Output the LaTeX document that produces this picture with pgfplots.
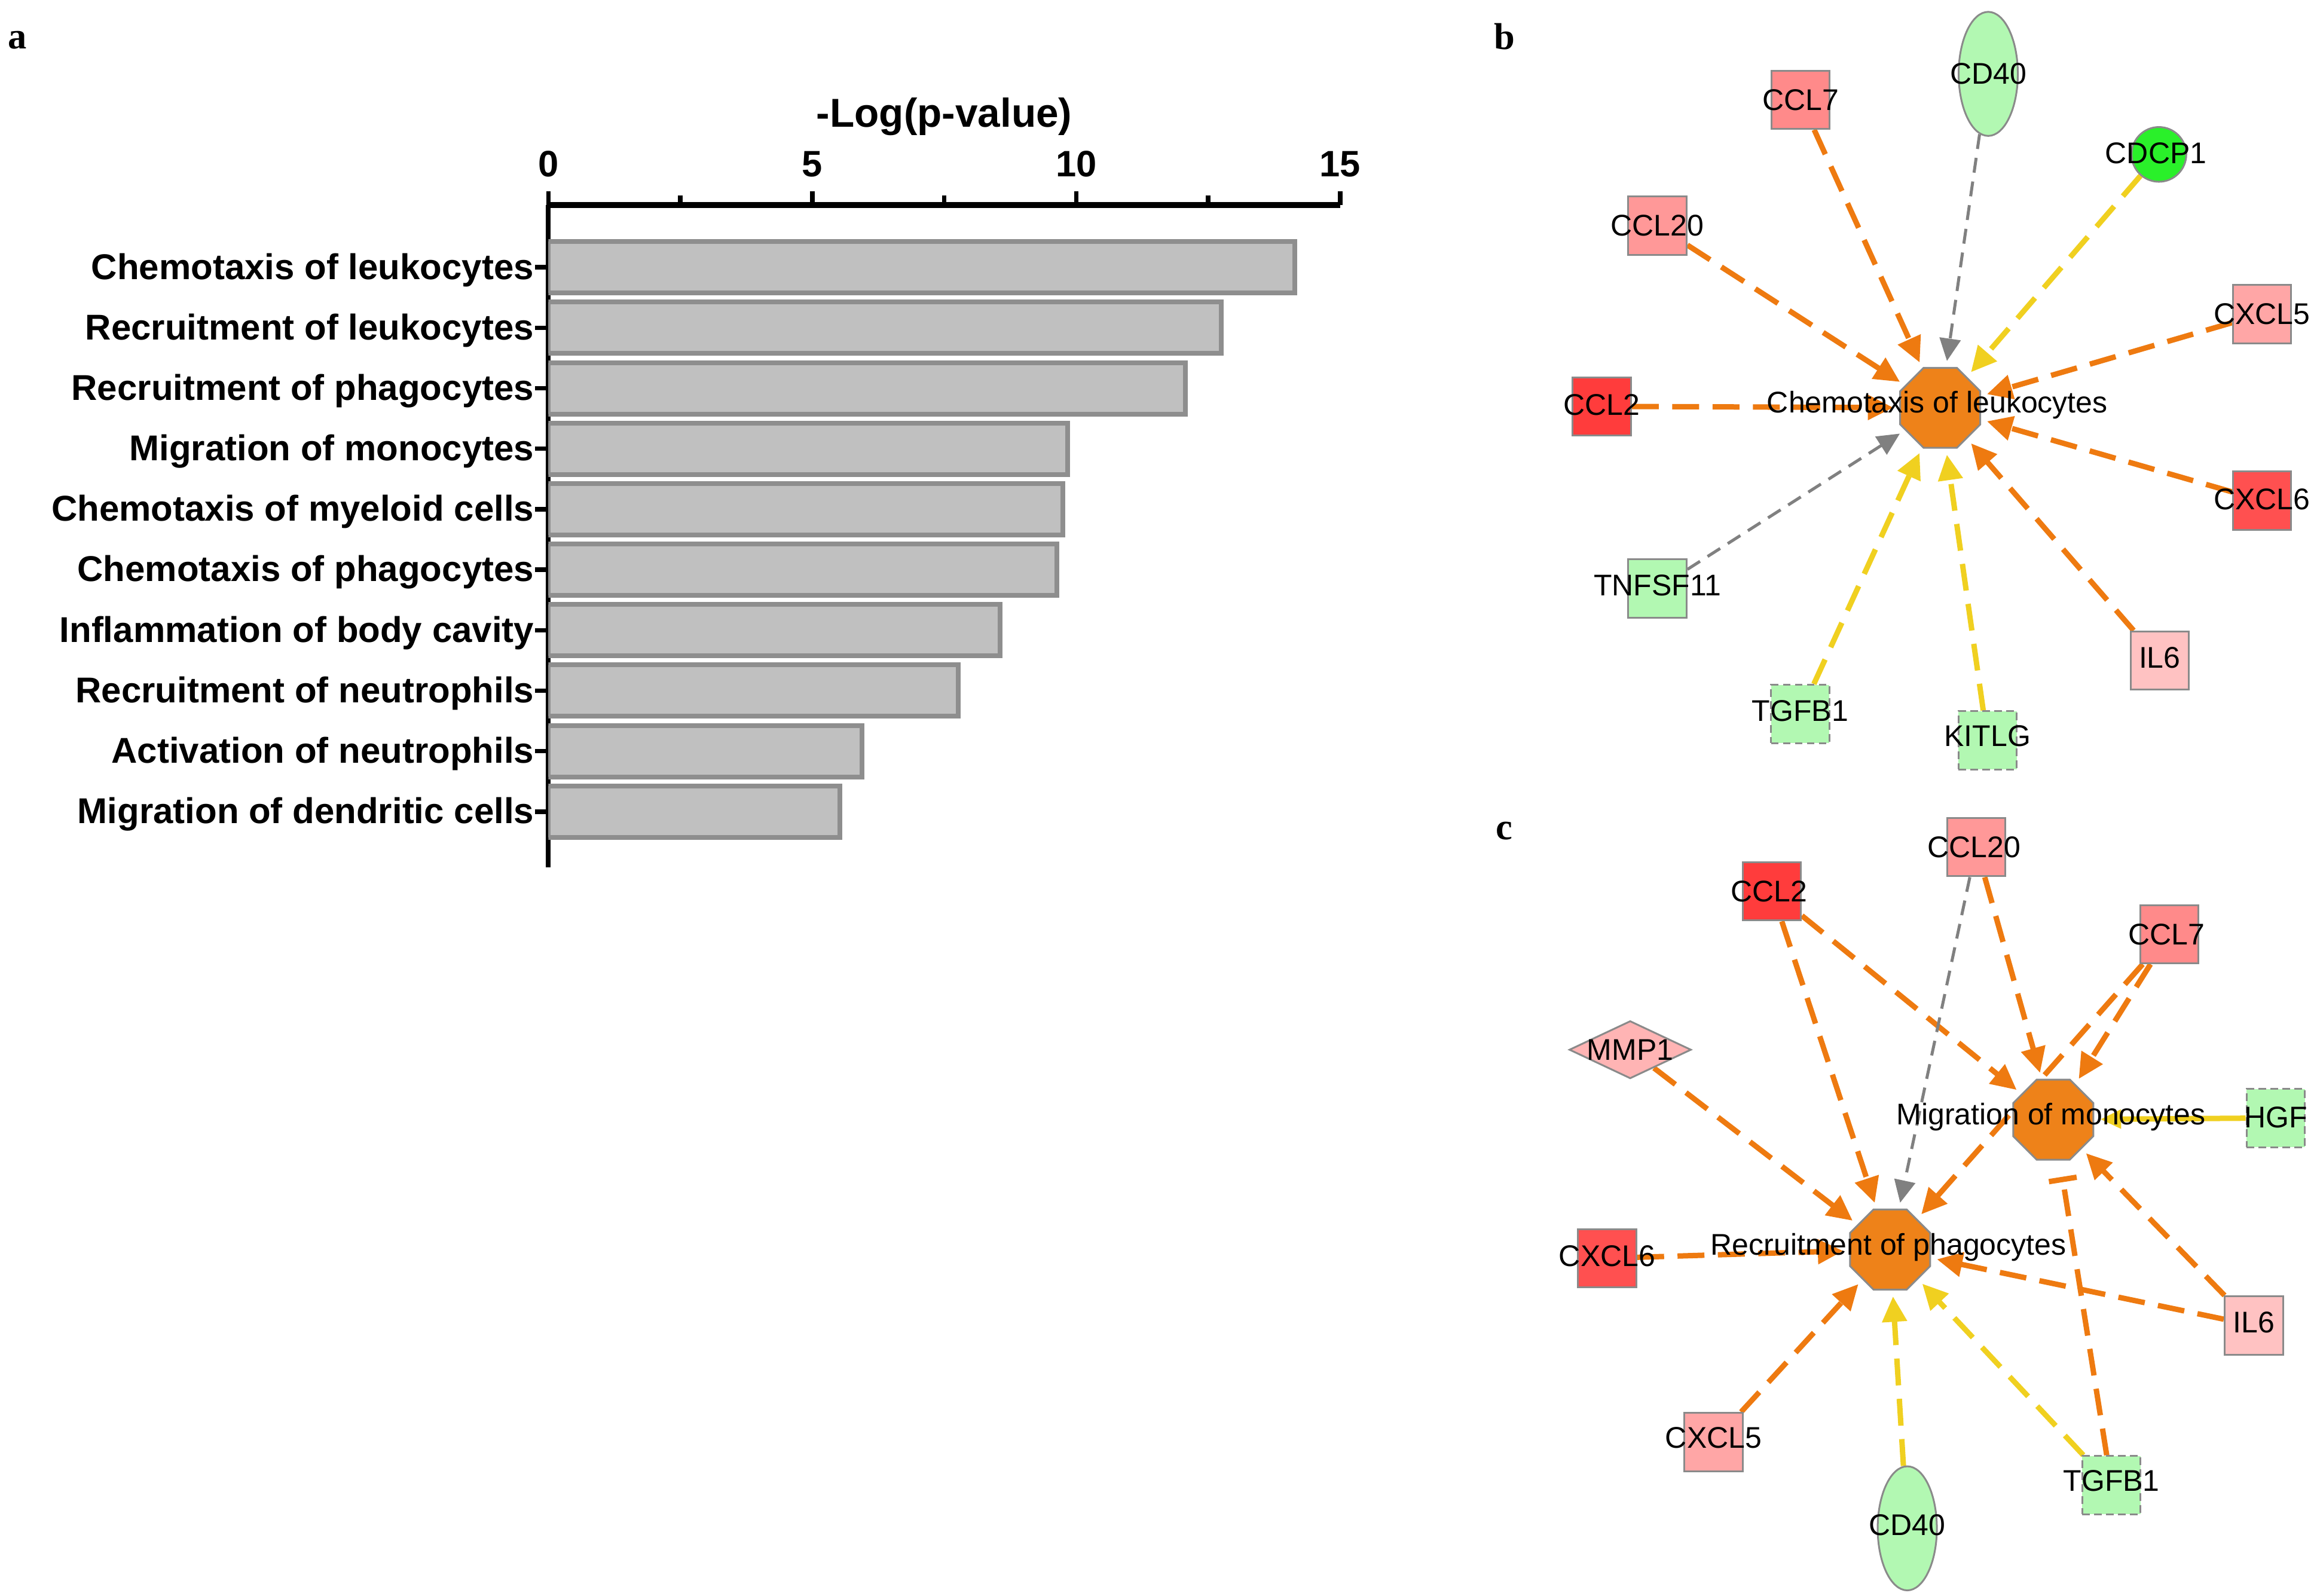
\documentclass[border=0pt]{standalone}
\usepackage{fontspec}
\setmainfont{Liberation Sans}
\newfontfamily\lserif{Liberation Serif}
\usepackage{pgfplots}
\pgfplotsset{compat=1.18}
\usetikzlibrary{arrows.meta,shapes.geometric}

\definecolor{barfill}{HTML}{C0C0C0}
\definecolor{baredge}{HTML}{8E8E8E}
\definecolor{eor}{HTML}{EE7A10}
\definecolor{eye}{HTML}{F0D020}
\definecolor{egr}{HTML}{808080}
\definecolor{octf}{HTML}{EE8219}
\definecolor{nedge}{HTML}{8A8A8A}
\definecolor{rA}{HTML}{FF3C3C}
\definecolor{rB}{HTML}{FF5050}
\definecolor{rC}{HTML}{FF8A8A}
\definecolor{rD}{HTML}{FF9898}
\definecolor{rE}{HTML}{FFA6A6}
\definecolor{rF}{HTML}{FFC2C2}
\definecolor{rG}{HTML}{FFB4B4}
\definecolor{gL}{HTML}{B2F8B2}
\definecolor{gB}{HTML}{2AF02A}

\tikzset{
  gbox/.style={rectangle, minimum width=19.5pt, minimum height=19.5pt, inner sep=0pt, draw=nedge, line width=0.6pt},
  doct/.style={regular polygon, regular polygon sides=8, minimum size=29pt, inner sep=0pt, draw=nedge, line width=0.6pt},
  gell/.style={ellipse, minimum width=19.8pt, minimum height=41.5pt, inner sep=0pt, draw=nedge, line width=0.6pt},
  gcirc/.style={circle, minimum size=18.3pt, inner sep=0pt, draw=nedge, line width=0.6pt},
  gdia/.style={diamond, minimum width=40.8pt, minimum height=19.3pt, inner sep=0pt, draw=nedge, line width=0.6pt},
  gdbox/.style={gbox, dash pattern=on 2.5pt off 1.5pt},
  ghost/.style={draw=none, fill=none},
  lab/.style={font=\fontsize{10}{12}\selectfont, inner sep=0pt, text=black},
  eO/.style={draw=eor, line width=1.8pt, dash pattern=on 9pt off 4.5pt, -{Triangle[length=8.5pt,width=8pt]}, shorten >=2pt},
  eY/.style={draw=eye, line width=1.8pt, dash pattern=on 9pt off 4.5pt, -{Triangle[length=8.5pt,width=8pt]}, shorten >=2pt},
  eG/.style={draw=egr, line width=1pt, dash pattern=on 5pt off 3pt, -{Triangle[length=7.5pt,width=7pt]}, shorten >=2pt},
  eYs/.style={draw=eye, line width=1.8pt, -{Triangle[length=7pt,width=6pt]}, shorten >=2pt},
  eOi/.style={draw=eor, line width=1.8pt, dash pattern=on 9pt off 4.5pt, -{Bar[width=9.4pt,line width=1.8pt]}, shorten >=5.5pt},
}

\newcommand{\ghostgene}[4]{\node[#1,ghost] (#2) at (axis cs:#3,#4) {};}
\newcommand{\showgene}[4]{\node[#1,fill=#2] at (axis cs:#3,#4) {};}
\newcommand{\genelabel}[3]{\node[lab] at (axis cs:#1,#2) {#3};}

\begin{document}
\begin{tikzpicture}
\useasboundingbox (0,0) rectangle (775.2pt,534pt);

% ---------------- panel a: bar chart ----------------
\begin{axis}[
  at={(183.46pt,243.8pt)}, anchor=south west,
  width=264.9pt, height=221.6pt, scale only axis,
  xbar, bar width=17.2pt,
  xmin=0, xmax=15, ymin=-0.92, ymax=10.03,
  axis x line=top, axis y line=left,
  x axis line style={-, line width=1.9pt},
  y axis line style={-, line width=1.6pt},
  xtick={0,5,10,15}, minor xtick={2.5,7.5,12.5},
  ytick={0,...,9},
  yticklabels={Migration of dendritic cells, Activation of neutrophils, Recruitment of neutrophils, Inflammation of body cavity, Chemotaxis of phagocytes, Chemotaxis of myeloid cells, Migration of monocytes, Recruitment of phagocytes, Recruitment of leukocytes, Chemotaxis of leukocytes},
  tick align=outside,
  major tick length=4.5pt, minor tick length=3.2pt,
  every tick/.style={black, line width=1.5pt},
  /pgf/number format/assume math mode=true,
  xticklabel style={font=\bfseries\fontsize{12.3}{14}\selectfont, yshift=1.4pt},
  yticklabel style={font=\bfseries\fontsize{12}{14}\selectfont, xshift=3.2pt, yshift=-0.9pt},
  xlabel={-Log(p-value)},
  xlabel style={font=\bfseries\fontsize{13.5}{16}\selectfont, at={(axis description cs:0.5,1)}, anchor=center, yshift=29.5pt},
]
\addplot[fill=barfill, draw=baredge, line width=1.6pt] coordinates {
  (5.52,0) (5.94,1) (7.76,2) (8.56,3) (9.63,4) (9.75,5) (9.84,6) (12.07,7) (12.75,8) (14.14,9)
};
\end{axis}

% ---------------- panels b and c: networks ----------------
\begin{axis}[
  at={(0pt,0pt)}, anchor=south west,
  width=775.2pt, height=534pt, scale only axis,
  xmin=0, xmax=1568, ymin=0, ymax=1080.1, y dir=reverse,
  hide axis, clip=false,
]
% panel letters
\node[font=\lserif\bfseries\fontsize{12.5}{14}\selectfont, anchor=base, inner sep=0pt] at (axis cs:11.7,33) {a};
\node[font=\lserif\bfseries\fontsize{12.5}{14}\selectfont, anchor=base, inner sep=0pt] at (axis cs:1018,33.4) {b};
\node[font=\lserif\bfseries\fontsize{12.5}{14}\selectfont, anchor=base, inner sep=0pt] at (axis cs:1018,568) {c};

% ---- ghost nodes b
\ghostgene{doct}{bC}{1313}{276}
\ghostgene{gbox}{bCCL7}{1218.5}{67.5}
\ghostgene{gell}{bCD40}{1345.5}{50}
\ghostgene{gcirc}{bCDCP1}{1461}{104.5}
\ghostgene{gbox}{bCCL20}{1121.6}{152.8}
\ghostgene{gbox}{bCXCL5}{1530.7}{212.5}
\ghostgene{gbox}{bCCL2}{1084}{275}
\ghostgene{gbox}{bCXCL6}{1530.7}{338.7}
\ghostgene{gbox}{bTNFSF11}{1121.6}{398.3}
\ghostgene{gbox}{bIL6}{1461.5}{447}
\ghostgene{gbox}{bTGFB1}{1218.2}{483.2}
\ghostgene{gbox}{bKITLG}{1345}{501.1}
% ---- ghost nodes c
\ghostgene{doct}{cM}{1389.5}{757.7}
\ghostgene{doct}{cR}{1279.1}{845.6}
\ghostgene{gbox}{cCCL20}{1337.4}{573.3}
\ghostgene{gbox}{cCCL2}{1199.1}{603.2}
\ghostgene{gbox}{cCCL7}{1468}{632.2}
\ghostgene{gdia}{cMMP1}{1103.2}{710.4}
\ghostgene{gbox}{cHGF}{1540}{756.6}
\ghostgene{gbox}{cCXCL6}{1087.6}{851.5}
\ghostgene{gbox}{cIL6}{1525.2}{897}
\ghostgene{gbox}{cCXCL5}{1159.6}{975.9}
\ghostgene{gell}{cCD40}{1290.7}{1034.3}
\ghostgene{gbox}{cTGFB1}{1428.9}{1005.1}

% ---- edges b
\draw[eO] (bCCL7) -- (bC);
\draw[eG] (bCD40) -- (bC);
\draw[eY] (bCDCP1) -- (bC);
\draw[eO] (bCCL20) -- (bC);
\draw[eO] (bCXCL5) -- (bC);
\draw[eO] (bCCL2) -- (bC);
\draw[eO] (bCXCL6) -- (bC);
\draw[eG] (bTNFSF11) -- (bC);
\draw[eO] (bIL6) -- (bC);
\draw[eY] (bTGFB1) -- (bC);
\draw[eY] (bKITLG) -- (bC);
% ---- edges c
\draw[eO] (cCCL7) -- (cR);
\draw[eO] (cCCL2) -- (cR);
\draw[eO] (cCCL2) -- (cM);
\draw[eG] (cCCL20) -- (cR);
\draw[eO] (cCCL20) -- (cM);
\draw[eO] (cCCL7) -- (cM);
\draw[eO] (cMMP1) -- (cR);
\draw[eYs] (cHGF) -- (cM);
\draw[eO] (cIL6) -- (cM);
\draw[eO] (cIL6) -- (cR);
\draw[eOi] (cTGFB1) -- (cM);
\draw[eY] (cTGFB1) -- (cR);
\draw[eY] (cCD40) -- (cR);
\draw[eO] (cCXCL5) -- (cR);
\draw[eO] (cCXCL6) -- (cR);

% ---- visible nodes b
\showgene{doct}{octf}{1313}{276}
\showgene{gbox}{rC}{1218.5}{67.5}
\showgene{gell}{gL}{1345.5}{50}
\showgene{gcirc}{gB}{1461}{104.5}
\showgene{gbox}{rD}{1121.6}{152.8}
\showgene{gbox}{rE}{1530.7}{212.5}
\showgene{gbox}{rA}{1084}{275}
\showgene{gbox}{rB}{1530.7}{338.7}
\showgene{gbox}{gL}{1121.6}{398.3}
\showgene{gbox}{rF}{1461.5}{447}
\showgene{gdbox}{gL}{1218.2}{483.2}
\showgene{gdbox}{gL}{1345}{501.1}
% ---- visible nodes c
\showgene{doct}{octf}{1389.5}{757.7}
\showgene{doct}{octf}{1279.1}{845.6}
\showgene{gbox}{rD}{1337.4}{573.3}
\showgene{gbox}{rA}{1199.1}{603.2}
\showgene{gbox}{rC}{1468}{632.2}
\showgene{gdia}{rG}{1103.2}{710.4}
\showgene{gdbox}{gL}{1540}{756.6}
\showgene{gbox}{rB}{1087.6}{851.5}
\showgene{gbox}{rF}{1525.2}{897}
\showgene{gbox}{rE}{1159.6}{975.9}
\showgene{gell}{gL}{1290.7}{1034.3}
\showgene{gdbox}{gL}{1428.9}{1005.1}

% ---- labels b
\genelabel{1311}{274}{Chemotaxis of leukocytes}
\genelabel{1218.5}{67.5}{CCL7}
\genelabel{1345.5}{50}{CD40}
\genelabel{1459}{103.5}{CDCP1}
\genelabel{1121.6}{152.8}{CCL20}
\genelabel{1530.7}{212.5}{CXCL5}
\genelabel{1084}{274}{CCL2}
\genelabel{1530.7}{338}{CXCL6}
\genelabel{1121.6}{396}{TNFSF11}
\genelabel{1461.5}{445}{IL6}
\genelabel{1218.2}{481}{TGFB1}
\genelabel{1345}{498}{KITLG}
% ---- labels c
\genelabel{1388}{756}{Migration of monocytes}
\genelabel{1278}{844}{Recruitment of phagocytes}
\genelabel{1336}{573.3}{CCL20}
\genelabel{1197}{603.2}{CCL2}
\genelabel{1466}{632.2}{CCL7}
\genelabel{1103.2}{710.4}{MMP1}
\genelabel{1540}{756}{HGF}
\genelabel{1087.6}{850}{CXCL6}
\genelabel{1525.2}{895}{IL6}
\genelabel{1159.6}{973}{CXCL5}
\genelabel{1290.7}{1032}{CD40}
\genelabel{1428.9}{1002}{TGFB1}
\end{axis}
\end{tikzpicture}
\end{document}
